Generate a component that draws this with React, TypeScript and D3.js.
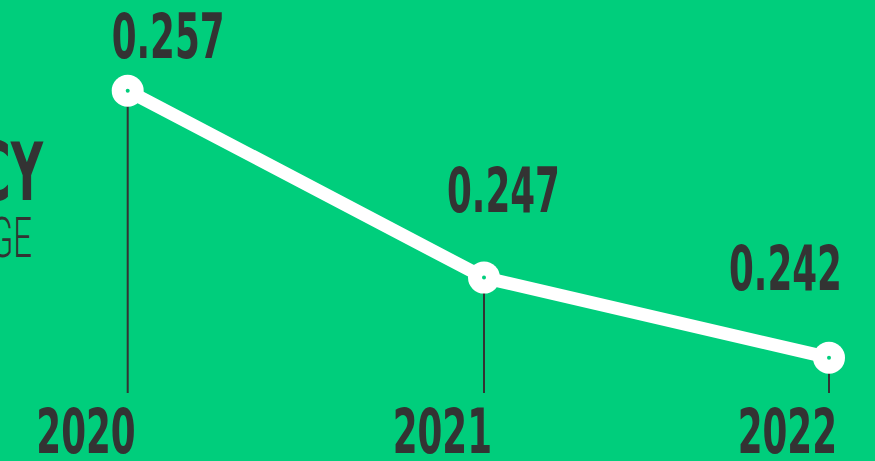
import React from "react";
import * as d3 from "d3";

const years = [2020, 2021, 2022];
const values = [0.2574, 0.2469, 0.2424];
const valueLabels = ["0.257", "0.247", "0.242"];
const titleMain = "EFFICIENCY";
const titleSub = "AVERAGE";

const W = 875;
const H = 461;
const BG = "#00CE7C";
const DARK = "#333333";
const FONT = "'Liberation Sans Narrow', 'DejaVu Sans Condensed', 'Roboto', sans-serif";

// label placement offsets (style only)
const labelDx = [-16, -37, -100];
const labelDy = [-33, -66, -68];

export default function App() {
  const x = d3.scaleLinear().domain([2020, 2021, 2022]).range([127.7, 484, 829]);
  const y = d3.scaleLinear().domain([0.2424, 0.2574]).range([357.7, 90.7]);
  const pts = years.map((yr, i) => [x(yr), y(values[i])] as [number, number]);
  const line = d3.line();
  const baseY = 393;
  const sx = 0.64;

  return (
    <svg
      width={W}
      height={H}
      style={{ position: "absolute", left: 0, top: 0, display: "block" }}
    >
      <rect width={W} height={H} fill={BG} />
      <text
        transform={`translate(43,200) scale(0.62,1)`}
        textAnchor="end"
        fontFamily={FONT}
        fontWeight="bold"
        fontSize={80}
        fill={DARK}
      >
        {titleMain}
      </text>
      <text
        transform={`translate(32,257) scale(0.6,1)`}
        textAnchor="end"
        fontFamily="Roboto, 'Open Sans', sans-serif"
        fontWeight={300}
        fontSize={55}
        fill={DARK}
      >
        {titleSub}
      </text>
      {pts.map(([px, py], i) => (
        <line key={"v" + i} x1={px} x2={px} y1={py} y2={baseY} stroke={DARK} strokeWidth={2} />
      ))}
      <path d={line(pts) || ""} fill="none" stroke="#fff" strokeWidth={13} strokeLinejoin="round" />
      {pts.map(([px, py], i) => (
        <g key={"c" + i}>
          <circle cx={px} cy={py} r={16} fill="#fff" />
          <circle cx={px} cy={py} r={2} fill={BG} />
        </g>
      ))}
      {pts.map(([px, py], i) => (
        <text
          key={"l" + i}
          transform={`translate(${px + labelDx[i]},${py + labelDy[i]}) scale(${sx},1)`}
          fontFamily={FONT}
          fontWeight="bold"
          fontSize={62}
          fill={DARK}
        >
          {valueLabels[i]}
        </text>
      ))}
      {pts.map(([px], i) => (
        <text
          key={"y" + i}
          transform={`translate(${px + 8},453) scale(${sx},1)`}
          textAnchor="end"
          fontFamily={FONT}
          fontWeight="bold"
          fontSize={62}
          fill={DARK}
        >
          {String(years[i])}
        </text>
      ))}
    </svg>
  );
}
